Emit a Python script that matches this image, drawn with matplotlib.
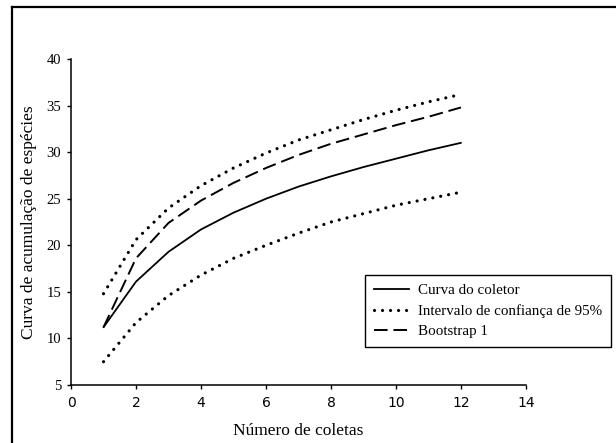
import matplotlib
matplotlib.use("Agg")
import matplotlib.pyplot as plt
from matplotlib.lines import Line2D

# Data
coletas = [1, 2, 3, 4, 5, 6, 7, 8, 9, 10, 11, 12]
curva_coletor = [11.2, 16.1, 19.3, 21.7, 23.5, 25.0, 26.3, 27.4, 28.4, 29.3, 30.2, 31.0]
ic_superior = [14.8, 20.6, 24.0, 26.4, 28.3, 29.9, 31.3, 32.4, 33.5, 34.5, 35.4, 36.2]
ic_inferior = [7.5, 11.7, 14.6, 16.8, 18.6, 20.0, 21.3, 22.5, 23.4, 24.3, 25.0, 25.7]
bootstrap = [11.2, 18.6, 22.4, 24.8, 26.7, 28.3, 29.7, 30.9, 31.9, 32.9, 33.8, 34.8]

xticks = [0, 2, 4, 6, 8, 10, 12, 14]
yticks = [5, 10, 15, 20, 25, 30, 35, 40]
labels = ["Curva do coletor", "Intervalo de confiança de 95%", "Bootstrap 1"]

W, H = 616, 443
fig = plt.figure(figsize=(W / 100, H / 100), dpi=100)
serif = "Liberation Serif"

# outer frame (top and left lines)
fig.add_artist(Line2D([12 / W, 12 / W], [0, 1 - 7 / H], transform=fig.transFigure,
                      color="black", lw=1.6, solid_capstyle="projecting"))
fig.add_artist(Line2D([12 / W, 1], [1 - 7 / H, 1 - 7 / H], transform=fig.transFigure,
                      color="black", lw=1.6, solid_capstyle="projecting"))

ax = fig.add_axes([71 / W, 58 / H, 455 / W, 326 / H])
for s in ["top", "right"]:
    ax.spines[s].set_visible(False)
for s in ["left", "bottom"]:
    ax.spines[s].set_linewidth(1.1)

dot_style = (0, (0.01, 2.5))
ax.plot(coletas, curva_coletor, color="black", lw=1.3, solid_capstyle="round")
ax.plot(coletas, ic_superior, color="black", lw=2.3, linestyle=dot_style, dash_capstyle="round")
ax.plot(coletas, ic_inferior, color="black", lw=2.3, linestyle=dot_style, dash_capstyle="round")
ax.plot(coletas, bootstrap, color="black", lw=1.4, linestyle=(0, (7, 3)))

ax.set_xlim(0, 14)
ax.set_ylim(5, 40)
ax.set_xticks(xticks)
ax.set_yticks(yticks)
ax.tick_params(axis="both", direction="out", length=3, width=1.0, colors="black")
ax.tick_params(axis="x", pad=5)
ax.tick_params(axis="y", pad=4)
for t in ax.get_xticklabels():
    t.set_fontfamily("DejaVu Sans")
    t.set_fontsize(10)
for t in ax.get_yticklabels():
    t.set_fontfamily(serif)
    t.set_fontsize(10.5)

ax.set_xlabel("Número de coletas", fontfamily=serif, fontsize=12.5, labelpad=9)
ax.set_ylabel("Curva de acumulação de espécies", fontfamily=serif, fontsize=12.5, labelpad=7)

handles = [
    Line2D([], [], color="black", lw=1.3),
    Line2D([], [], color="black", lw=2.3, linestyle=dot_style, dash_capstyle="round"),
    Line2D([], [], color="black", lw=1.4, linestyle=(0, (7, 3))),
]
leg = fig.legend(handles, labels, loc="upper left",
                 bbox_to_anchor=(365 / W, 1 - 275 / H), bbox_transform=fig.transFigure,
                 borderaxespad=0, fancybox=False, framealpha=1, edgecolor="black",
                 prop={"family": serif, "size": 10.8}, handlelength=2.3,
                 handletextpad=0.6, labelspacing=0.45, borderpad=0.6)
leg.get_frame().set_linewidth(1.0)

fig.savefig("out.png", dpi=100)
